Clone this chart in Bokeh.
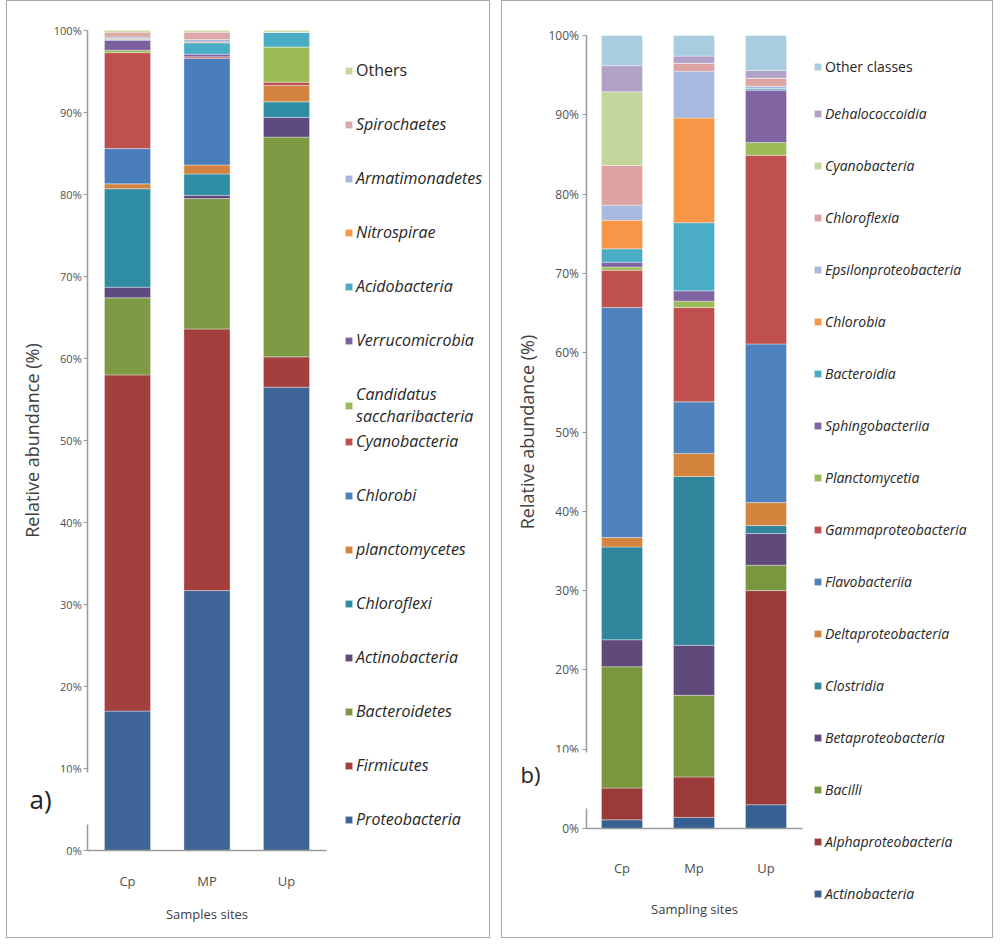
from bokeh.plotting import figure
from bokeh.models import (ColumnDataSource, Range1d, Legend, LegendItem,
                          PrintfTickFormatter, FixedTicker, Label)
from bokeh.layouts import row
from bokeh.embed import file_html
from bokeh.resources import INLINE

# ---------------- data: panel a (phyla) ----------------
sites_a = ["Cp", "MP", "Up"]
phyla = ["Proteobacteria", "Firmicutes", "Bacteroidetes", "Actinobacteria", "Chloroflexi",
         "planctomycetes", "Chlorobi", "Cyanobacteria", "Candidatus\nsaccharibacteria",
         "Verrucomicrobia", "Acidobacteria", "Nitrospirae", "Armatimonadetes",
         "Spirochaetes", "Others"]
a_cp = [17.0, 41.0, 9.4, 1.3, 12.0, 0.6, 4.3, 11.7, 0.3, 1.2, 0.1, 0.1, 0.2, 0.6, 0.2]
a_mp = [31.7, 31.9, 15.9, 0.4, 2.6, 1.1, 13.0, 0.2, 0.0, 0.3, 1.4, 0.1, 0.3, 0.9, 0.2]
a_up = [56.5, 3.7, 26.8, 2.4, 1.9, 2.0, 0.0, 0.4, 4.3, 0.0, 1.8, 0.0, 0.0, 0.0, 0.2]
colors_a = ["#3E6498", "#A33F3D", "#7E9A45", "#5E4A7E", "#2E8DA3", "#D58340", "#4A7EBB",
            "#C0504D", "#9BBB59", "#7D5FA0", "#4BACC6", "#F79646", "#A6B8DC", "#DDA9A8",
            "#C4D79D"]

# ---------------- data: panel b (classes) ----------------
sites_b = ["Cp", "Mp", "Up"]
classes = ["Actinobacteria", "Alphaproteobacteria", "Bacilli", "Betaproteobacteria",
           "Clostridia", "Deltaproteobacteria", "Flavobacteriia", "Gammaproteobacteria",
           "Planctomycetia", "Sphingobacteriia", "Bacteroidia", "Chlorobia",
           "Epsilonproteobacteria", "Chloroflexia", "Cyanobacteria", "Dehalococcoidia",
           "Other classes"]
b_cp = [1.1, 4.0, 15.3, 3.4, 11.7, 1.2, 29.0, 4.7, 0.4, 0.6, 1.7, 3.6, 1.9, 5.0, 9.3, 3.3, 3.8]
b_mp = [1.4, 5.1, 10.3, 6.3, 21.3, 2.9, 6.5, 11.9, 0.8, 1.3, 8.6, 13.2, 5.9, 1.0, 0.0, 0.9, 2.6]
b_up = [3.0, 27.0, 3.2, 4.0, 1.0, 2.9, 20.0, 23.8, 1.6, 6.6, 0.2, 0.0, 0.3, 1.0, 0.0, 1.0, 4.4]
colors_b = ["#376092", "#9B3B39", "#7A9740", "#604A7B", "#31859C", "#D4843C", "#4F81BD",
            "#C0504D", "#9BBB59", "#8064A2", "#4BACC6", "#F79646", "#A7B9DE", "#DDA2A1",
            "#C3D69B", "#B3A2C7", "#A9CDE0"]

y_ticks = [0, 10, 20, 30, 40, 50, 60, 70, 80, 90, 100]

FONT = "Open Sans"


def make_panel(sites, names, vals, colors, W, H, x0_px, unit_px, y0_px, pct_px, bar_w, margin):
    """W,H: frame size; x0_px: px of category axis origin from left;
    unit_px: px per category; y0_px: px of 0% from bottom; pct_px: px per percent."""
    xs = [i + 0.5 for i in range(len(sites))]
    keys = [f"s{i}" for i in range(len(names))]
    data = {"x": xs}
    for i, k in enumerate(keys):
        data[k] = [vals[0][i], vals[1][i], vals[2][i]]
    src = ColumnDataSource(data)
    xr = Range1d(-x0_px / unit_px, (W - x0_px) / unit_px)
    yr = Range1d(-y0_px / pct_px, (H - y0_px) / pct_px)
    p = figure(width=W, height=H, x_range=xr, y_range=yr, output_backend="svg",
               toolbar_location=None, min_border=0)
    p.margin = margin
    p.styles = {"border": "1px solid #a8a8a8"}
    p.xgrid.grid_line_color = None
    p.ygrid.grid_line_color = None
    p.outline_line_color = None
    rs = p.vbar_stack(keys, x="x", width=bar_w, color=colors, source=src,
                      line_color="white", line_width=0.6, line_alpha=0.6)
    for ax in (p.xaxis[0], p.yaxis[0]):
        ax.fixed_location = 0
        ax.axis_line_color = "#9a9a9a"
        ax.axis_line_width = 1.5
        ax.major_label_text_font = FONT
        ax.axis_label_text_font = FONT
        ax.axis_label_text_font_style = "normal"
        ax.axis_label_text_color = "#404040"
        ax.major_label_text_color = "#505050"
        ax.minor_tick_line_color = None
    p.xaxis.bounds = (0, len(sites))
    p.yaxis.bounds = (0, 100)
    p.xaxis.ticker = FixedTicker(ticks=xs)
    p.xaxis.major_label_overrides = {x: s for x, s in zip(xs, sites)}
    p.xaxis.major_tick_line_color = None
    p.xaxis.major_tick_out = 0
    p.xaxis.major_tick_in = 0
    p.yaxis.ticker = FixedTicker(ticks=y_ticks)
    p.yaxis.formatter = PrintfTickFormatter(format="%d%%")
    p.yaxis.major_tick_line_color = "#9a9a9a"
    p.yaxis.major_tick_out = 4
    p.yaxis.major_tick_in = 0
    return p, rs


def legend(rs, names, idx, x, y, font_size, spacing, style="italic"):
    return Legend(items=[LegendItem(label=names[i], renderers=[rs[i]]) for i in idx],
                  location=(x, y), label_text_font_style=style,
                  border_line_color=None, background_fill_alpha=0, padding=0, margin=0,
                  glyph_width=9, glyph_height=9, label_standoff=3, label_height=20,
                  spacing=spacing, label_text_font=FONT, label_text_font_size=font_size,
                  label_text_color="#262626")


# ---------- panel a ----------
pa, rsa = make_panel(sites_a, phyla, [a_cp, a_mp, a_up], colors_a, 484, 938,
                     80.25, 79.5, 89, 8.2, 0.58, (0, 0, 0, 6))
pa.yaxis.major_label_text_font_size = "11px"
pa.yaxis.major_label_standoff = 2
pa.yaxis.axis_label = "Relative abundance (%)"
pa.yaxis.axis_label_text_font_size = "18px"
pa.yaxis.axis_label_standoff = 7
pa.xaxis.axis_label = "Samples sites"
pa.xaxis.major_label_text_font_size = "13px"
pa.xaxis.major_label_standoff = 21
pa.xaxis.axis_label_text_font_size = "13px"
pa.xaxis.axis_label_standoff = 12
pa.add_layout(legend(rsa, phyla, [14], 337, 858, "16px", 32, style="normal"))
pa.add_layout(legend(rsa, phyla, [13, 12, 11, 10, 9], 337, 588, "16px", 32))
pa.add_layout(legend(rsa, phyla, [8], 337, 512, "16px", 32))
pa.add_layout(legend(rsa, phyla, [7, 6, 5, 4, 3, 2, 1, 0], 337, 109, "16px", 32))
pa.add_layout(Label(x=18, y=141, x_units="screen", y_units="screen", text="a)",
                    text_font=FONT, text_font_size="26px", text_color="#222222",
                    text_baseline="middle", background_fill_color="white",
                    padding=dict(left=4, right=44, top=8, bottom=8)))

# ---------- panel b ----------
pb, rsb = make_panel(sites_b, classes, [b_cp, b_mp, b_up], colors_b, 492, 938,
                     83.5, 72.0, 111, 7.93, 0.57, (0, 0, 0, 11))
pb.yaxis.major_label_text_font_size = "12px"
pb.yaxis.major_label_standoff = 3
pb.yaxis.axis_label = "Relative abundance (%)"
pb.yaxis.axis_label_text_font_size = "18px"
pb.yaxis.axis_label_standoff = 7
pb.xaxis.axis_label = "Sampling sites"
pb.xaxis.major_label_text_font_size = "13px"
pb.xaxis.major_label_standoff = 30
pb.xaxis.axis_label_text_font_size = "13px"
pb.xaxis.axis_label_standoff = 20
pb.add_layout(legend(rsb, classes, [16], 311, 863, "14px", 32, style="normal"))
pb.add_layout(legend(rsb, classes, list(range(15, -1, -1)), 311, 36, "14px", 32))
pb.add_layout(Label(x=14, y=159, x_units="screen", y_units="screen", text="b)",
                    text_font=FONT, text_font_size="22px", text_color="#222222",
                    text_baseline="middle", background_fill_color="white",
                    padding=dict(left=4, right=50, top=6, bottom=20)))

layout = row(pa, pb)
open("out.html", "w").write(file_html(layout, INLINE))
